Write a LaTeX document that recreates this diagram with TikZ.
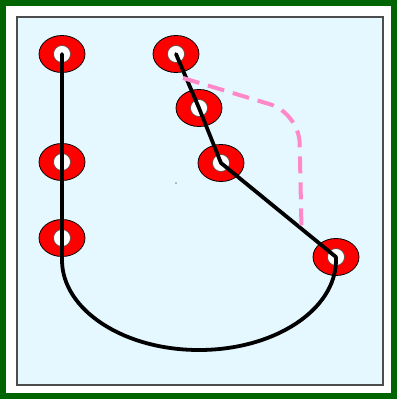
\documentclass[tikz,border=0pt]{standalone}
\usetikzlibrary{shapes.geometric,calc}
\definecolor{paper}{RGB}{230,248,255}
\definecolor{frame}{RGB}{0,100,0}
\definecolor{trail}{RGB}{255,136,200}
\tikzset{
  ring/.style={ellipse, draw=black, line width=0.8pt, fill=red, minimum width=46pt, minimum height=37pt, inner sep=0pt},
  hole/.style={circle, draw=black!70, line width=0.6pt, fill=white, minimum size=17pt, inner sep=0pt},
  wire/.style={line width=3.8pt, black, line cap=round},
}
\begin{document}
\begin{tikzpicture}[x=1pt, y=-1pt]
    % frame and sheet
    \useasboundingbox (0,0) rectangle (397,399);
    \fill[white] (0,0) rectangle (397,399);
    \draw[frame, line width=6pt] (3,3) rectangle (394,396);
    \draw[fill=paper, draw=black!70, line width=1.5pt] (17,17) rectangle (383,385);

    % rings
    \foreach \n/\x/\y in {a/62/54, b/62/162, c/62/238, d/176/54, e/199/108, f/221/163, g/336/257} {
        \node[ring] (\n) at (\x,\y) {};
        \node[hole] (\n h) at (\n) {};
    }
    \fill[black!40] (176,183) circle (1);

    % left wire with the bottom loop
    \draw[wire] (a.center) -- (c.center) -- ++(0,22) arc (180:0:137 and 90) -- (g.center);

    % right wire
    \draw[wire] (d.center) -- (e.center) -- (f.center) -- (g.center);

    % pink dashed trail
    \coordinate (s) at (183,78);
    \coordinate (t) at ($(f)!0.7!(g)$);
    \draw[trail, line width=4pt, dash pattern=on 17pt off 9pt, rounded corners=30pt]
        (s) -- (299,113) -- (t);
\end{tikzpicture}
\end{document}
